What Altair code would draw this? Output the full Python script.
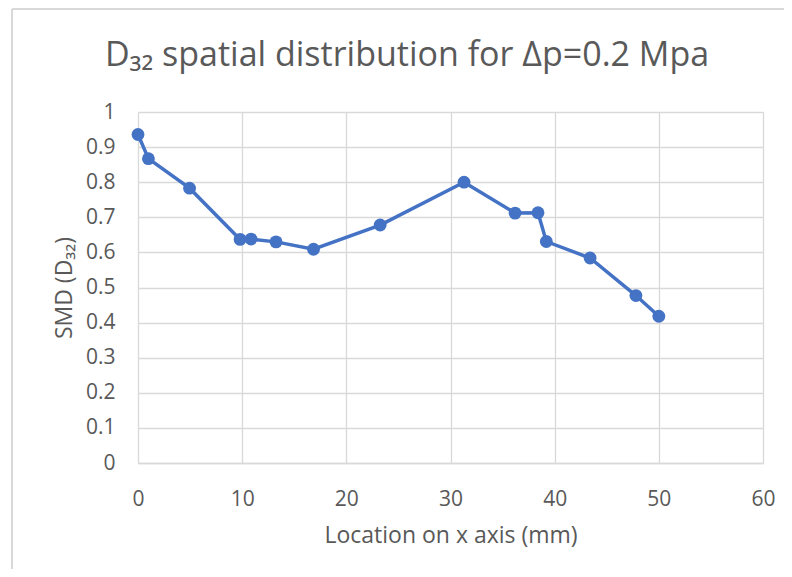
import altair as alt
import pandas as pd

location_mm = [0.0, 1.0, 4.95, 9.8, 10.85, 13.25, 16.85, 23.25, 31.3, 36.2, 38.4, 39.2, 43.4, 47.8, 50.0]
smd_d32 = [0.936, 0.867, 0.783, 0.637, 0.638, 0.630, 0.609, 0.678, 0.800, 0.712, 0.713, 0.631, 0.584, 0.477, 0.418]
x_ticks = [0, 10, 20, 30, 40, 50, 60]
y_ticks = [0, 0.1, 0.2, 0.3, 0.4, 0.5, 0.6, 0.7, 0.8, 0.9, 1]
title_text = "D₃₂ spatial distribution for Δp=0.2 Mpa"

df = pd.DataFrame({"x": location_mm, "y": smd_d32})

BLUE = "#4472C4"
GRID = "#D9D9D9"
TEXT = "#595959"
FONT = "Open Sans"

W, H = 625, 351
PL, PT, PR, PB = 130, 104, 21, 106

x_enc = alt.X("x:Q", scale=alt.Scale(domain=[0, 60], nice=False),
              axis=alt.Axis(title="Location on x axis (mm)", values=x_ticks,
                            grid=True, gridColor=GRID, gridWidth=1.3, domain=True, domainColor=GRID,
                            domainWidth=1.3, ticks=False, labelPadding=25, labelFontSize=21,
                            labelColor=TEXT, labelFont=FONT, labelOverlap=False, labelFlush=False,
                            titleFont=FONT, titleFontSize=23,
                            titleFontWeight="normal", titleColor=TEXT, titlePadding=15))
y_enc = alt.Y("y:Q", scale=alt.Scale(domain=[0, 1], nice=False),
              axis=alt.Axis(title="SMD (D₃₂)", values=y_ticks,
                            labelExpr="datum.value == 0 ? '0' : datum.value == 1 ? '1' : format(datum.value, '.1f')",
                            grid=True, gridColor=GRID, gridWidth=1.3, domain=False, ticks=False,
                            labelOverlap=False, labelFlush=False,
                            labelPadding=23, labelFontSize=21, labelColor=TEXT, labelFont=FONT,
                            titleFont=FONT, titleFontSize=23, titleFontWeight="normal",
                            titleColor=TEXT, titlePadding=9))

base = alt.Chart(df).encode(x=x_enc, y=y_enc)
line = base.mark_line(color=BLUE, strokeWidth=3.5)
points = base.mark_circle(color=BLUE, size=165, opacity=1)

one = pd.DataFrame({"a": [0]})
border = alt.Chart(one).mark_rule(color=GRID, strokeWidth=2).encode(
    x=alt.value(-PL + 4), y=alt.value(-PT + 1), y2=alt.value(H + PB)
)
border_top = alt.Chart(one).mark_rule(color=GRID, strokeWidth=2).encode(
    x=alt.value(-PL + 4), x2=alt.value(W + PR), y=alt.value(-PT + 1)
)
title = alt.Chart(one).mark_text(
    fontSize=34, font=FONT, color=TEXT, align="center", baseline="middle"
).encode(x=alt.value(407 - 8 - PL), y=alt.value(56 - 8 - PT), text=alt.value(title_text))

chart = alt.layer(line, points, border, border_top, title).properties(
    width=W, height=H,
    padding={"left": PL, "top": PT, "right": PR, "bottom": PB},
    autosize=alt.AutoSizeParams(type="none"),
).configure_view(stroke=None).configure(background="white")

chart.save("out.html", embed_options={"renderer": "svg", "actions": False})
